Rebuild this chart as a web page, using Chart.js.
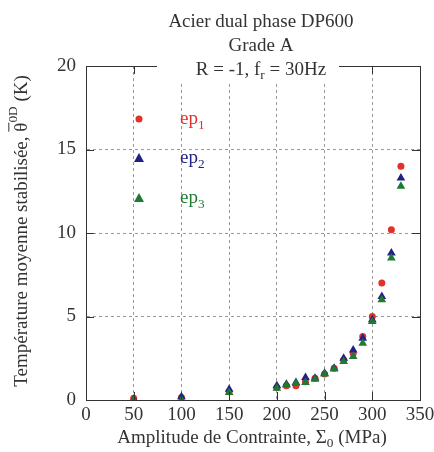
<!DOCTYPE html>
<html>
<head>
<meta charset="utf-8">
<script src="https://cdn.jsdelivr.net/npm/chart.js@4"></script>
<style>
  body { margin: 0; background: #fff; }
  #wrap { width: 434px; height: 452px; }
</style>
</head>
<body>
<div id="wrap"><canvas id="myChart" width="434" height="452"></canvas></div>
<script>
const stress = [50, 100, 150, 200, 210, 220, 230, 240, 250, 260, 270, 280, 290, 300, 310, 320, 330];
const ep1 = [0.1, 0.15, 0.5, 0.75, 0.85, 0.85, 1.1, 1.3, 1.55, 1.9, 2.4, 2.8, 3.8, 5.0, 7.0, 10.2, 14.0];
const ep2 = [0.05, 0.2, 0.65, 0.85, 0.95, 1.05, 1.35, 1.3, 1.6, 1.9, 2.5, 3.0, 3.7, 4.8, 6.2, 8.8, 13.3];
const ep3 = [0.0, 0.0, 0.45, 0.7, 0.9, 1.0, 1.05, 1.25, 1.55, 1.85, 2.3, 2.6, 3.4, 4.7, 6.0, 8.5, 12.8];
const xTicks = [0, 50, 100, 150, 200, 250, 300, 350];
const yTicks = [0, 5, 10, 15, 20];
const titleLines = ['Acier dual phase DP600', 'Grade A'];

const RED = '#e03228', BLUE = '#202088', GREEN = '#1d7a30';
const SERIF = '"Liberation Serif", "DejaVu Serif", serif';

function pts(ys) {
    return stress.map((x, i) => ({ x: x, y: ys[i] }));
}

// text with a sub/superscript piece: parts = [[text, shift], ...]
function drawParts(ctx, parts, x, y, size, color, align) {
    ctx.fillStyle = color;
    let widths = parts.map(p => {
        ctx.font = (p[1] ? size * 0.7 : size) + 'px ' + SERIF;
        return ctx.measureText(p[0]).width;
    });
    let total = widths.reduce((a, b) => a + b, 0);
    let cx = align === 'center' ? x - total / 2 : x;
    parts.forEach((p, i) => {
        ctx.font = (p[1] ? size * 0.7 : size) + 'px ' + SERIF;
        ctx.fillText(p[0], cx, y + (p[1] || 0));
        if (p[2] === 'bar') {
            ctx.fillRect(cx, y - size * 0.72, widths[i], 1);
        }
        cx += widths[i];
    });
    return total;
}

const decor = {
    id: 'decor',
    afterDraw(chart) {
        const ctx = chart.ctx;
        const a = chart.chartArea;
        const xs = chart.scales.x, ys = chart.scales.y;
        ctx.save();
        // frame
        ctx.strokeStyle = '#333';
        ctx.lineWidth = 1;
        ctx.strokeRect(a.left + 0.5, a.top + 0.5, a.right - a.left, a.bottom - a.top);
        // inner ticks
        ctx.beginPath();
        xTicks.forEach(v => {
            const px = Math.round(xs.getPixelForValue(v)) + 0.5;
            ctx.moveTo(px, a.bottom); ctx.lineTo(px, a.bottom - 8);
            ctx.moveTo(px, a.top); ctx.lineTo(px, a.top + 8);
        });
        yTicks.forEach(v => {
            const py = Math.round(ys.getPixelForValue(v)) + 0.5;
            ctx.moveTo(a.left, py); ctx.lineTo(a.left + 8, py);
            ctx.moveTo(a.right, py); ctx.lineTo(a.right - 8, py);
        });
        ctx.stroke();

        // title
        ctx.textAlign = 'left';
        ctx.textBaseline = 'middle';
        const cx = 261;
        drawParts(ctx, [[titleLines[0]]], cx, 22, 19, '#333', 'center');
        drawParts(ctx, [[titleLines[1]]], cx, 46, 19, '#333', 'center');
        ctx.fillStyle = '#fff';
        ctx.fillRect(157, 58, 182, 24);
        drawParts(ctx, [['R = -1, f'], ['r', 6], [' = 30Hz']], cx, 70, 19, '#333', 'center');

        // legend inside plot
        const lx = a.left + 53, tx = a.left + 94;
        const rows = [[119, RED, 'circle', '1'], [158, BLUE, 'triangle', '2'], [198, GREEN, 'triangle', '3']];
        rows.forEach(r => {
            ctx.fillStyle = r[1];
            ctx.beginPath();
            if (r[2] === 'circle') {
                ctx.arc(lx, r[0], 3.5, 0, Math.PI * 2);
            } else {
                ctx.moveTo(lx, r[0] - 5); ctx.lineTo(lx + 5, r[0] + 4); ctx.lineTo(lx - 5, r[0] + 4);
            }
            ctx.fill();
            drawParts(ctx, [['ep'], [r[3], 7]], tx, r[0], 19, r[1], 'left');
        });

        // x axis title
        drawParts(ctx, [['Amplitude de Contrainte, \u03A3'], ['0', 6], [' (MPa)']], 252, 438, 19, '#333', 'center');

        // y axis title
        ctx.translate(22, 231);
        ctx.rotate(-Math.PI / 2);
        drawParts(ctx, [['Temp\u00e9rature moyenne stabilis\u00e9e, '], ['\u03B8', 0, 'bar'], ['0D', -8], [' (K)']], 0, 0, 19, '#333', 'center');
        ctx.restore();
    }
};

const ctx = document.getElementById('myChart').getContext('2d');
new Chart(ctx, {
    type: 'scatter',
    data: {
        datasets: [
            { label: 'ep1', data: pts(ep1), pointStyle: 'circle', pointRadius: 3.5, backgroundColor: RED, borderWidth: 0, order: 3 },
            { label: 'ep2', data: pts(ep2), pointStyle: 'triangle', pointRadius: 5, backgroundColor: BLUE, borderWidth: 0, order: 2 },
            { label: 'ep3', data: pts(ep3), pointStyle: 'triangle', pointRadius: 5, backgroundColor: GREEN, borderWidth: 0, order: 1 }
        ]
    },
    options: {
        responsive: false,
        animation: false,
        layout: { padding: { left: 0, top: 66, right: 14, bottom: 0 } },
        scales: {
            x: {
                type: 'linear', min: 0, max: 350,
                afterFit(s) { s.height = 52; s.paddingLeft = 0; s.paddingRight = 0; },
                afterBuildTicks(s) { s.ticks = xTicks.map(v => ({ value: v })); },
                ticks: { font: { family: SERIF, size: 19 }, color: '#333', padding: 4, maxRotation: 0 },
                grid: { color: '#999', drawTicks: false },
                border: { dash: [3, 3], color: '#333' }
            },
            y: {
                min: 0, max: 20,
                afterFit(s) { s.width = 86; s.paddingTop = 0; s.paddingBottom = 0; },
                afterBuildTicks(s) { s.ticks = yTicks.map(v => ({ value: v })); },
                ticks: { font: { family: SERIF, size: 19 }, color: '#333', padding: 10 },
                grid: { color: '#999', drawTicks: false },
                border: { dash: [3, 3], color: '#333' }
            }
        },
        plugins: {
            legend: { display: false },
            tooltip: { enabled: false }
        }
    },
    plugins: [decor]
});
</script>
</body>
</html>
